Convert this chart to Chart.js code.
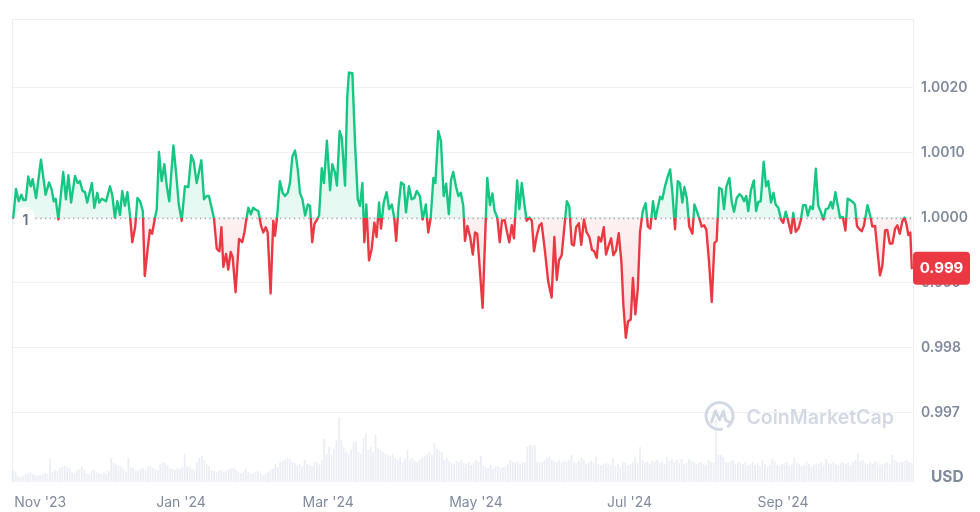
<!DOCTYPE html>
<html><head><meta charset="utf-8">
<script src="https://cdn.jsdelivr.net/npm/chart.js@4.4.1/dist/chart.umd.min.js"></script>
<style>html,body{margin:0;padding:0;background:#fff;overflow:hidden}#wrap{width:980px;height:512px;position:relative}</style>
</head><body><div id="wrap"><canvas id="c"></canvas></div>
<script>
// ---- data (day index from start, price in USD) ----
const days = [
0.0,1.1,2.2,3.3,4.1,5.1,6.1,7.1,7.9,9.3,
11.3,13.2,14.6,15.7,16.5,17.3,18.4,20.4,21.5,22.5,
23.6,25.2,26.3,27.2,28.3,29.3,30.2,32.1,33.1,34.3,
35.1,36.2,37.9,39.5,40.4,41.5,42.5,43.6,44.5,45.6,
46.6,47.7,48.6,49.8,50.7,51.8,52.9,53.7,54.9,55.8,
56.7,57.8,58.6,59.5,60.6,61.7,62.7,63.7,65.4,66.5,
67.6,68.8,70.1,71.5,72.7,73.7,74.9,75.9,76.8,77.9,
79.0,79.9,81.0,82.0,83.1,84.2,85.0,85.8,86.9,87.8,
88.8,89.6,90.8,
92.2,93.5,94.4,95.3,96.0,97.0,98.0,99.0,100.1,101.2,
102.1,103.1,103.9,105.1,106.2,106.9,107.8,108.9,110.0,111.0,
112.1,113.0,114.0,115.1,116.2,117.1,118.1,119.2,120.3,121.2,
122.1,123.0,124.1,124.9,126.0,126.9,128.1,129.4,130.3,131.4,
132.2,133.3,134.2,135.5,136.4,137.1,138.5,139.6,140.7,141.6,
142.6,143.4,144.2,145.3,146.4,147.5,148.4,149.4,150.2,151.3,
152.5,153.5,154.6,155.6,156.4,157.3,158.4,159.5,160.4,161.6,
162.7,163.8,164.8,166.1,167.2,168.5,169.5,170.5,171.6,172.4,
173.6,174.7,175.8,176.8,177.9,178.8,179.7,180.8,181.8,182.8,
183.8,
184.5,185.5,186.6,187.7,188.6,189.5,191.7,193.6,194.7,195.7,
196.6,197.7,198.7,199.6,200.7,201.7,202.6,203.6,204.5,205.8,
206.7,207.7,208.6,209.7,210.8,211.8,212.7,213.8,214.9,215.8,
217.2,218.5,219.9,221.0,222.0,222.9,224.0,226.1,227.1,228.1,
229.0,229.9,231.0,232.0,233.1,234.2,235.3,236.4,237.3,238.3,
239.1,240.1,241.2,242.1,243.1,244.2,245.1,246.2,247.3,248.4,
249.2,250.2,251.1,252.2,253.1,254.1,255.1,256.0,257.1,258.3,
259.2,260.2,261.3,262.3,263.2,264.2,265.1,266.2,267.3,268.3,
269.2,270.3,271.4,272.3,273.3,274.1,275.1,276.1,
277.4,278.2,279.2,280.1,281.2,282.2,283.1,284.2,285.3,286.4,
287.3,288.3,289.4,290.3,291.3,292.5,293.5,294.4,295.5,296.6,
297.5,298.5,299.4,300.2,301.3,302.5,303.4,304.3,305.3,306.5,
307.5,308.4,309.5,310.5,311.4,312.5,313.6,314.5,315.5,316.6,
317.7,318.6,319.6,320.7,321.6,322.6,323.7,324.5,325.6,326.6,
327.8,328.8,329.9,330.9,331.9,332.9,333.9,334.7,335.8,336.8,
337.7,338.8,339.9,340.8,341.8,342.9,343.8,344.6,345.6,346.6,
347.5,348.9,350.0,350.9,352.0,352.9,354.0,355.0,356.1,357.0,
358.0,359.1,360.2,361.1,362.1,363.2,364.0,364.8,365.6,366.4,
367.0
];
const prices = [
1.00000,1.00044,1.00025,1.00035,1.00027,1.00027,1.00063,1.00048,1.00059,1.00030,
1.00089,1.00035,1.00054,1.00043,1.00025,1.00029,0.99997,1.00070,1.00028,1.00065,
1.00023,1.00064,1.00053,1.00056,1.00041,1.00039,1.00023,1.00053,1.00015,1.00038,
1.00023,1.00029,1.00025,1.00048,1.00035,1.00000,1.00025,1.00004,1.00041,1.00018,
1.00039,1.00002,0.99962,0.99986,1.00030,1.00025,1.00010,0.99910,0.99952,0.99981,
0.99975,0.99998,1.00013,1.00101,1.00056,1.00082,1.00048,1.00025,1.00111,1.00068,
1.00020,0.99995,1.00048,1.00047,1.00096,1.00086,1.00053,1.00071,1.00088,1.00028,
1.00033,1.00033,1.00015,0.99998,0.99952,0.99948,0.99985,0.99924,0.99944,0.99920,
0.99947,0.99939,0.99885,
0.99967,0.99962,0.99977,1.00000,1.00015,1.00005,1.00015,1.00012,1.00010,0.99987,
0.99977,0.99985,0.99977,0.99883,0.99995,0.99972,1.00003,1.00056,1.00038,1.00033,
1.00038,1.00053,1.00094,1.00103,1.00074,1.00038,1.00028,1.00003,1.00020,1.00018,
0.99962,0.99990,0.99997,1.00003,1.00076,1.00053,1.00118,1.00042,1.00082,1.00069,
1.00049,1.00133,1.00122,1.00049,1.00185,1.00223,1.00222,1.00114,1.00028,1.00018,
1.00053,0.99962,1.00020,0.99934,0.99952,0.99992,0.99970,1.00023,0.99983,1.00023,
1.00039,1.00013,1.00020,1.00000,0.99964,1.00015,1.00054,1.00051,1.00008,1.00048,
1.00028,1.00030,1.00041,1.00033,0.99997,1.00020,0.99977,1.00000,1.00061,1.00053,
1.00133,1.00117,1.00033,1.00052,1.00005,1.00058,1.00070,1.00048,1.00033,1.00038,
1.00018,
0.99964,0.99987,0.99970,0.99943,0.99977,0.99975,0.99861,1.00061,1.00019,1.00037,
1.00010,1.00000,0.99962,0.99995,0.99996,0.99977,0.99962,0.99988,0.99968,1.00057,
1.00013,1.00053,1.00025,0.99995,1.00000,0.99995,0.99948,0.99972,0.99988,0.99991,
0.99947,0.99901,0.99877,0.99970,0.99904,0.99934,0.99942,1.00025,1.00017,0.99959,
0.99957,0.99985,0.99991,0.99958,0.99997,0.99977,0.99970,0.99950,0.99948,0.99938,
0.99970,0.99963,0.99985,0.99943,0.99956,0.99968,0.99942,0.99949,0.99976,0.99931,
0.99865,0.99815,0.99840,0.99843,0.99907,0.99851,0.99891,0.99977,1.00010,1.00022,
0.99986,0.99983,1.00025,0.99998,1.00015,1.00032,1.00028,1.00048,1.00063,1.00074,
1.00039,0.99982,1.00056,1.00053,1.00023,1.00047,1.00030,0.99986,
0.99975,1.00020,1.00010,1.00000,0.99986,0.99988,0.99981,0.99931,0.99870,0.99961,
0.99964,1.00046,1.00043,1.00013,1.00048,1.00061,1.00023,1.00009,1.00030,1.00036,
1.00033,1.00025,1.00033,1.00010,1.00042,1.00057,1.00010,1.00024,1.00025,1.00086,
1.00048,1.00056,1.00023,1.00038,1.00020,1.00015,0.99997,0.99992,1.00009,0.99993,
0.99976,1.00007,0.99978,0.99983,0.99995,1.00019,1.00019,1.00003,1.00017,1.00013,
1.00075,1.00018,1.00008,0.99997,1.00013,1.00014,1.00024,1.00014,1.00039,1.00018,
1.00000,1.00001,0.99980,1.00029,1.00027,1.00024,1.00020,0.99987,0.99982,0.99979,
0.99988,1.00019,1.00003,0.99986,0.99987,0.99952,0.99911,0.99926,0.99980,0.99981,
0.99960,0.99960,0.99983,0.99988,0.99975,0.99995,1.00000,0.99990,0.99973,0.99977,
0.99922
];
// daily volume (relative units), one per day index
const volumes = [
11,10,6,5,6,8,9,10,8,7,
6,7,8,9,8,23,10,12,11,14,
15,16,15,13,10,9,12,13,15,12,
9,8,11,12,10,9,8,10,9,11,
24,19,18,17,16,13,10,24,15,14,
12,11,13,14,12,15,16,14,13,12,
18,20,19,17,14,13,12,14,13,15,
28,16,15,13,12,20,24,26,22,18,
16,12,11,10,11,12,10,11,13,14,
14,12,10,9,11,13,10,8,9,10,
11,9,7,8,10,12,13,18,15,20,
21,22,24,23,20,19,17,18,16,22,
18,17,16,20,20,18,22,43,28,35,
27,33,42,65,42,35,30,28,33,40,
40,30,28,44,48,32,35,30,47,34,
32,30,28,27,26,28,24,22,25,20,
23,32,22,24,21,20,22,25,26,28,
30,27,39,33,31,30,22,24,21,19,
18,21,20,22,19,18,20,17,19,22,
20,26,16,15,14,17,13,15,16,14,
15,16,18,22,20,19,21,18,20,19,
35,37,36,37,20,19,20,22,24,25,
22,21,20,22,19,21,20,22,27,20,
19,21,24,23,18,19,21,20,25,18,
17,18,19,18,17,24,16,18,15,20,
19,17,18,20,25,19,35,22,19,20,
18,21,20,22,19,20,18,25,21,23,
20,22,19,23,18,19,23,21,20,18,
19,20,18,17,22,20,19,62,27,27,
25,20,19,21,22,18,20,19,18,20,
17,18,20,17,19,16,22,18,15,17,
23,20,17,16,18,19,20,17,18,24,
19,18,16,17,20,18,15,17,19,18,
20,17,23,19,18,20,18,17,19,20,
18,19,17,20,22,28,21,22,19,18,
20,18,21,19,17,18,19,20,18,27,
22,20,19,20,21,22,20,19
];
const xTickPos = [11, 68.5, 128.6, 189, 251.7, 314.4];
const xTickLabels = ["Nov '23", "Jan '24", "Mar '24", "May '24", "Jul '24", "Sep '24"];
const yTickVals = [0.997, 0.998, 0.999, 1.0, 1.001, 1.002];
const yTickLabels = ["0.997", "0.998", "0.999", "1.0000", "1.0010", "1.0020"];
const baseline = 1;
const baselineLabel = "1";
const lastPriceLabel = "0.999";
const currencyLabel = "USD";
const watermark = "CoinMarketCap";

// ---- styling ----
const GREEN = '#16c784', RED = '#ea3943';
const FONT = 'Inter, "Noto Sans", sans-serif';

function splitGrad(chart, stops) {
  const {chartArea, scales} = chart;
  const g = chart.ctx.createLinearGradient(0, chartArea.top, 0, chartArea.bottom);
  const h = chartArea.bottom - chartArea.top;
  let f = (scales.y.getPixelForValue(baseline) - chartArea.top) / h;
  f = Math.min(1, Math.max(0, f));
  stops(g, f);
  return g;
}

const n = Math.min(days.length, prices.length);
const priceData = [];
for (let i = 0; i < n; i++) priceData.push({x: days[i], y: prices[i]});
const volData = volumes.map((v, i) => ({x: i, y: v}));

function rr(ctx, x, y, w, h, r) {
  ctx.beginPath();
  ctx.moveTo(x + r, y);
  ctx.arcTo(x + w, y, x + w, y + h, r);
  ctx.arcTo(x + w, y + h, x, y + h, r);
  ctx.arcTo(x, y + h, x, y, r);
  ctx.arcTo(x, y, x + w, y, r);
  ctx.closePath();
}

const decor = {
  id: 'decor',
  beforeDatasetsDraw(chart) {
    const ctx = chart.ctx, a = chart.chartArea, ys = chart.scales.y;
    ctx.save();
    // frame top & left
    ctx.strokeStyle = '#eceef1'; ctx.lineWidth = 1;
    ctx.beginPath();
    ctx.moveTo(a.left + 0.5, a.bottom); ctx.lineTo(a.left + 0.5, a.top + 0.5); ctx.lineTo(a.right, a.top + 0.5);
    ctx.stroke();
    // watermark
    const cx = 719.5, cy = 416;
    ctx.strokeStyle = '#d3d9e3'; ctx.lineWidth = 3; ctx.lineCap = 'round'; ctx.lineJoin = 'round';
    ctx.beginPath(); ctx.arc(cx, cy, 13.5, 0.45 * Math.PI, 2.28 * Math.PI); ctx.stroke();
    ctx.beginPath();
    ctx.moveTo(cx - 8, cy + 6); ctx.lineTo(cx - 4, cy - 5); ctx.lineTo(cx, cy + 4); ctx.lineTo(cx + 4, cy - 5);
    ctx.lineTo(cx + 6, cy + 4); ctx.lineTo(cx + 11, cy + 7);
    ctx.stroke();
    ctx.fillStyle = '#d3d9e3';
    ctx.font = '600 19.5px ' + FONT;
    ctx.textAlign = 'left'; ctx.textBaseline = 'middle';
    ctx.fillText(watermark, 746.5, 418);
    // dotted baseline
    const y0 = Math.round(ys.getPixelForValue(baseline)) + 0.5;
    ctx.strokeStyle = '#9ea6b3'; ctx.lineWidth = 1.3; ctx.lineCap = 'butt';
    ctx.setLineDash([1.3, 3.4]);
    ctx.beginPath(); ctx.moveTo(a.left, y0); ctx.lineTo(a.right, y0); ctx.stroke();
    ctx.restore();
  },
  afterDatasetsDraw(chart) {
    const ctx = chart.ctx, ys = chart.scales.y;
    const y0 = ys.getPixelForValue(baseline);
    ctx.save();
    ctx.fillStyle = '#ffffff';
    rr(ctx, 16.5, y0 - 10.5, 18, 22, 9); ctx.fill();
    ctx.fillStyle = '#616e85';
    ctx.font = '600 14px ' + FONT;
    ctx.textAlign = 'center'; ctx.textBaseline = 'middle';
    ctx.fillText(baselineLabel, 25.5, y0 + 3);
    ctx.restore();
  },
  afterDraw(chart) {
    const ctx = chart.ctx, a = chart.chartArea, ys = chart.scales.y;
    const yl = ys.getPixelForValue(prices[n - 1]);
    ctx.save();
    ctx.fillStyle = RED;
    rr(ctx, a.right, yl - 16.5, 57, 33, 4); ctx.fill();
    ctx.fillStyle = '#ffffff';
    ctx.font = '700 15px ' + FONT;
    ctx.textAlign = 'center'; ctx.textBaseline = 'middle';
    ctx.fillText(lastPriceLabel, a.right + 28.5, yl + 0.5);
    ctx.fillStyle = '#808a9d';
    ctx.font = '700 15.5px ' + FONT;
    ctx.textAlign = 'left';
    ctx.fillText(currencyLabel, 931, 477.5);
    ctx.restore();
  }
};

new Chart(document.getElementById('c'), {
  type: 'line',
  data: {
    datasets: [
      {
        data: priceData,
        yAxisID: 'y',
        borderWidth: 2.4,
        pointRadius: 0,
        tension: 0,
        borderJoinStyle: 'round',
        borderCapStyle: 'round',
        borderColor: (c) => {
          if (!c.chart.chartArea) return GREEN;
          return splitGrad(c.chart, (g, f) => { g.addColorStop(0, GREEN); g.addColorStop(f, GREEN); g.addColorStop(f, RED); g.addColorStop(1, RED); });
        },
        backgroundColor: (c) => {
          if (!c.chart.chartArea) return 'rgba(22,199,132,0.12)';
          return splitGrad(c.chart, (g, f) => {
            g.addColorStop(0, 'rgba(22,199,132,0.2)');
            g.addColorStop(f, 'rgba(22,199,132,0.1)');
            g.addColorStop(f, 'rgba(234,57,67,0.07)');
            g.addColorStop(1, 'rgba(234,57,67,0.3)');
          });
        },
        fill: {target: {value: baseline}}
      },
      {
        type: 'bar',
        data: volData,
        yAxisID: 'yv',
        backgroundColor: 'rgba(207,214,228,0.42)',
        borderWidth: 0,
        barPercentage: 0.72,
        categoryPercentage: 1
      }
    ]
  },
  options: {
    responsive: true,
    maintainAspectRatio: false,
    animation: false,
    events: [],
    layout: {padding: {left: 12, top: 19, right: 0, bottom: 0}},
    plugins: {legend: {display: false}, tooltip: {enabled: false}},
    scales: {
      x: {
        type: 'linear', min: -0.53, max: 367.5, offset: false,
        grid: {display: false}, border: {display: false},
        afterBuildTicks: (s) => { s.ticks = xTickPos.map(v => ({value: v})); },
        afterFit: (s) => { s.height = 30; },
        ticks: {autoSkip: false, maxRotation: 0, padding: 4, color: '#808a9d',
          font: {family: FONT, size: 14}, callback: (v, i) => xTickLabels[i]}
      },
      y: {
        position: 'right', min: 0.995931, max: 1.003054,
        grid: {color: '#eff1f4', drawTicks: false, lineWidth: 1},
        border: {display: true, color: '#eceef1'},
        afterBuildTicks: (s) => { s.ticks = yTickVals.map(v => ({value: v})); },
        afterFit: (s) => { s.width = 67; },
        ticks: {padding: 8, color: '#808a9d', font: {family: FONT, size: 14, weight: '600'},
          callback: (v, i) => yTickLabels[i]}
      },
      yv: {display: false, min: 0, max: 463}
    }
  },
  plugins: [decor]
});
</script>
</body></html>
